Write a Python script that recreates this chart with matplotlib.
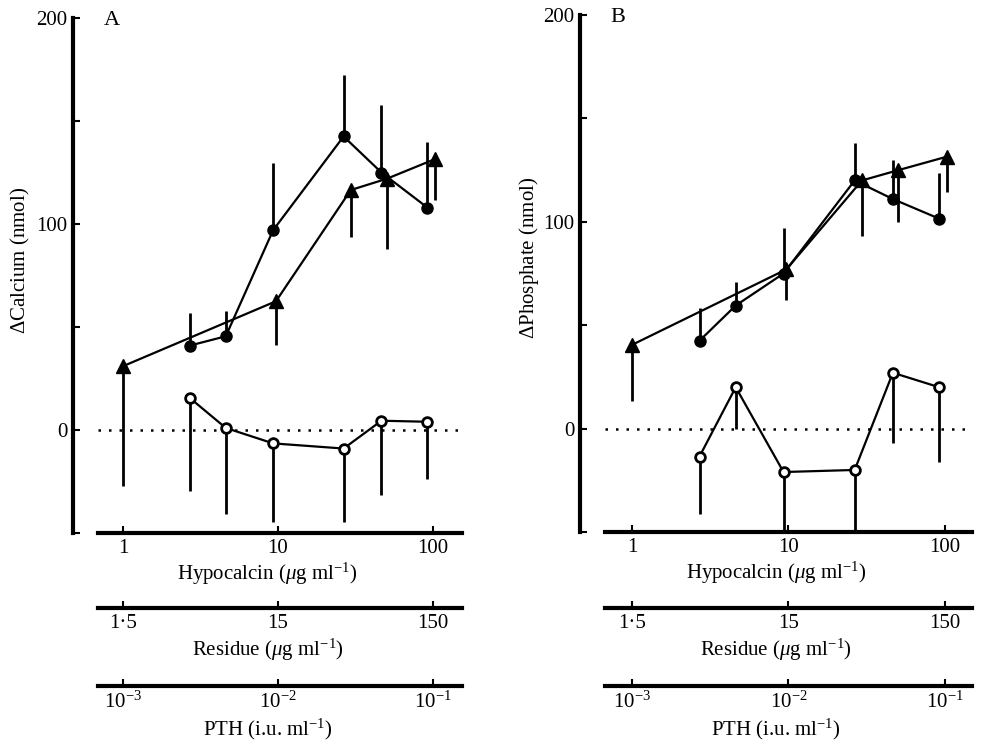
"""
Calcium and phosphate release vs hypocalcin / residue / PTH dose (panels A and B).
"""
import matplotlib
matplotlib.use("Agg")
import matplotlib.pyplot as plt

plt.rcParams['font.family'] = ['Liberation Serif', 'DejaVu Serif']
plt.rcParams['mathtext.fontset'] = 'custom'
plt.rcParams['mathtext.rm'] = 'Liberation Serif'
plt.rcParams['mathtext.it'] = 'Liberation Serif:italic'
plt.rcParams['font.size'] = 15

# x positions (hypocalcin scale, ug/ml)
tri_x = [1, 9.7, 29.5, 50.5, 103]
circ_x = [2.7, 4.6, 9.3, 26.5, 46.5, 92]

# panel A: calcium
a_tri_y = [31, 62.5, 116.5, 122, 131.5]
a_tri_err = [58, 21, 23, 34, 20]          # drawn downwards
a_circ_y = [41, 45.5, 97, 142.5, 125, 108]
a_circ_err = [16, 12.5, 32.5, 30, 33, 32]  # drawn upwards
a_open_y = [15.5, 1, -6.5, -9, 4.5, 4]
a_open_err = [45, 42, 38, 35.5, 36, 28]   # drawn downwards

# panel B: phosphate
b_tri_y = [40.5, 77, 120, 125, 131.5]
b_tri_err = [27, 15, 27, 25, 17]
b_circ_y = [42.5, 59.5, 75, 120, 111, 101.5]
b_circ_err = [16, 11.5, 22, 18, 19, 22]
b_open_y = [-13.5, 20, -21, -20, 27, 20]
b_open_err = [28, 20, 29, 30, 34, 36]

W, H = 985, 747
LW = 2.4


def px_box(x0, x1, y0, y1):
    return [x0 / W, 1 - y1 / H, (x1 - x0) / W, (y1 - y0) / H]


def draw_panel(fig, box, xlim, xspan, letter, ylabel, label_x,
               tri_y, tri_err, circ_y, circ_err, open_y, open_err):
    ax = fig.add_axes(box)
    ax.set_xscale('log')
    ax.set_xlim(*xlim)
    ax.set_ylim(-50, 200)
    ax.patch.set_visible(False)
    for s in ['top', 'right']:
        ax.spines[s].set_visible(False)
    ax.spines['left'].set_linewidth(LW + 0.6)
    ax.spines['bottom'].set_linewidth(LW + 0.6)
    ax.spines['left'].set_bounds(-50, 200)
    ax.spines['bottom'].set_bounds(*xspan)

    ax.set_yticks([-50, 0, 50, 100, 150, 200])
    ax.set_yticklabels(['', '0', '', '100', '', '200'])
    ax.set_xticks([1, 10, 100])
    ax.set_xticklabels(['1', '10', '100'])
    ax.minorticks_off()
    ax.tick_params(direction='in', length=5, width=1.5, pad=4)
    ax.set_xlabel('Hypocalcin ($\\mu$g ml$^{-1}$)', labelpad=2)
    ax.set_ylabel(ylabel)
    ax.yaxis.set_label_coords(label_x, 0.53)

    ax.hlines(0, xspan[0], xspan[1], colors='black', linestyles=(0, (1, 3.2)), lw=1.8)

    # error bars (one-sided)
    ax.vlines(tri_x, [y - e for y, e in zip(tri_y, tri_err)], tri_y, colors='black', lw=2)
    ax.vlines(circ_x, circ_y, [y + e for y, e in zip(circ_y, circ_err)], colors='black', lw=2)
    ax.vlines(circ_x, [y - e for y, e in zip(open_y, open_err)], open_y, colors='black', lw=2)

    ax.plot(tri_x, tri_y, color='black', lw=1.6, marker='^', ms=10, zorder=3)
    ax.plot(circ_x, circ_y, color='black', lw=1.6, marker='o', ms=8, zorder=3)
    ax.plot(circ_x, open_y, color='black', lw=1.6, marker='o', ms=7,
            mfc='white', mew=2, zorder=3)

    ax.text(0.078, 0.995, letter, transform=ax.transAxes, fontsize=16, va='center')
    return ax


def extra_axis(fig, x0, x1, y, xlim, xspan, ticks, labels, xlabel):
    ax = fig.add_axes([x0 / W, 1 - y / H, (x1 - x0) / W, 0.0001])
    ax.set_xscale('log')
    ax.set_xlim(*xlim)
    ax.set_yticks([])
    ax.patch.set_visible(False)
    for s in ['top', 'right', 'left']:
        ax.spines[s].set_visible(False)
    ax.spines['bottom'].set_linewidth(LW + 0.6)
    ax.spines['bottom'].set_bounds(*xspan)
    ax.set_xticks(ticks)
    ax.set_xticklabels(labels)
    ax.minorticks_off()
    ax.tick_params(direction='in', length=5, width=1.5, pad=4)
    ax.set_xlabel(xlabel, labelpad=3)
    return ax


fig = plt.figure(figsize=(9.85, 7.47), dpi=100)

# panel A
a_xlim = (0.475, 154)
a_span = (0.69, 154)
draw_panel(fig, px_box(73, 462, 18, 533), a_xlim, a_span, 'A', '$\\Delta$Calcium (nmol)', -0.105,
           a_tri_y, a_tri_err, a_circ_y, a_circ_err, a_open_y, a_open_err)
extra_axis(fig, 73, 462, 608, (a_xlim[0] * 1.5, a_xlim[1] * 1.5),
           (a_span[0] * 1.5, a_span[1] * 1.5), [1.5, 15, 150], ['1·5', '15', '150'],
           'Residue ($\\mu$g ml$^{-1}$)')
extra_axis(fig, 73, 462, 686, (a_xlim[0] * 1e-3, a_xlim[1] * 1e-3),
           (a_span[0] * 1e-3, a_span[1] * 1e-3), [1e-3, 1e-2, 1e-1],
           ['$10^{-3}$', '$10^{-2}$', '$10^{-1}$'], 'PTH (i.u. ml$^{-1}$)')

# panel B
b_xlim = (0.465, 149)
b_span = (0.67, 149)
draw_panel(fig, px_box(580, 972, 15, 532), b_xlim, b_span, 'B', '$\\Delta$Phosphate (nmol)', -0.1,
           b_tri_y, b_tri_err, b_circ_y, b_circ_err, b_open_y, b_open_err)
extra_axis(fig, 580, 972, 608, (b_xlim[0] * 1.5, b_xlim[1] * 1.5),
           (b_span[0] * 1.5, b_span[1] * 1.5), [1.5, 15, 150], ['1·5', '15', '150'],
           'Residue ($\\mu$g ml$^{-1}$)')
extra_axis(fig, 580, 972, 686, (b_xlim[0] * 1e-3, b_xlim[1] * 1e-3),
           (b_span[0] * 1e-3, b_span[1] * 1e-3), [1e-3, 1e-2, 1e-1],
           ['$10^{-3}$', '$10^{-2}$', '$10^{-1}$'], 'PTH (i.u. ml$^{-1}$)')

fig.savefig('out.png', dpi=100)
